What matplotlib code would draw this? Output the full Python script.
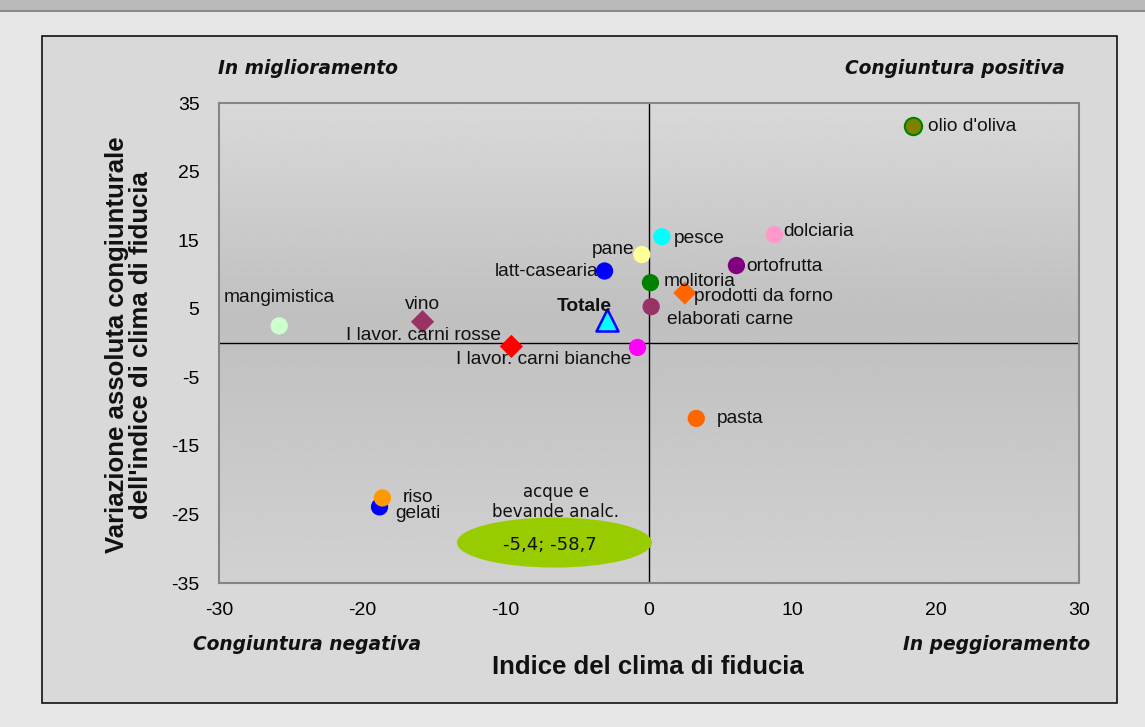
import numpy as np
import matplotlib.pyplot as plt
from matplotlib.patches import Rectangle, Ellipse

W, H = 1145, 727

# data: (indice clima fiducia, variazione congiunturale)
names = ["olio d'oliva", "dolciaria", "pesce", "pane", "latt-casearia", "ortofrutta",
         "molitoria", "prodotti da forno", "elaborati carne", "vino", "mangimistica",
         "I lavor. carni rosse", "I lavor. carni bianche", "pasta", "gelati", "riso"]
x_vals = [18.4, 8.75, 0.9, -0.5, -3.1, 6.1, 0.1, 2.5, 0.15, -15.8, -25.8, -9.6, -0.8, 3.3, -18.8, -18.6]
y_vals = [31.6, 15.8, 15.5, 12.9, 10.5, 11.3, 8.8, 7.3, 5.3, 3.1, 2.5, -0.5, -0.65, -11.0, -23.9, -22.6]
colors = ["#808000", "#ff99cc", "#00ffff", "#ffff99", "#0000ff", "#800080", "#008000", "#ff6600",
          "#993366", "#993366", "#ccffcc", "#ff0000", "#ff00ff", "#ff6600", "#0000ff", "#ff9900"]
markers = ["o", "o", "o", "o", "o", "o", "o", "D", "o", "D", "o", "D", "o", "o", "o", "o"]

totale_x, totale_y = -2.9, 3.4
acque_label = "-5,4; -58,7"

x_ticks = [-30, -20, -10, 0, 10, 20, 30]
y_ticks = [35, 25, 15, 5, -5, -15, -25, -35]

plt.rcParams['font.family'] = ['Liberation Sans', 'DejaVu Sans']

fig = plt.figure(figsize=(W / 100, H / 100), dpi=100)
fig.patch.set_facecolor("#e6e6e6")

def fx(px):
    return px / W

def fy(py):
    return 1 - py / H

# top banner
fig.patches.append(Rectangle((0, fy(10)), 1, 1 - fy(10), transform=fig.transFigure,
                             facecolor="#b9b9b9", edgecolor="none", zorder=0))
fig.patches.append(Rectangle((0, fy(12)), 1, fy(10) - fy(12), transform=fig.transFigure,
                             facecolor="#8a8a8a", edgecolor="none", zorder=0))
# chart area box
fig.patches.append(Rectangle((fx(42), fy(703)), fx(1117 - 42), fy(36) - fy(703),
                             transform=fig.transFigure, facecolor="#d9d9d9",
                             edgecolor="#111111", linewidth=1.2, zorder=0))

ax = fig.add_axes([fx(219), fy(583), fx(1079 - 219), fy(103) - fy(583)])
ax.set_zorder(2)
ax.set_xlim(-30, 30)
ax.set_ylim(-35, 35)

# plot area gradient
grad = np.interp(np.linspace(0, 1, 256), [0, 0.55, 1], [0.82, 0.75, 0.85]).reshape(-1, 1)
ax.imshow(grad, cmap="gray", vmin=0, vmax=1, extent=[0, 1, 0, 1], transform=ax.transAxes,
          aspect="auto", zorder=0, origin="lower")

for sp in ax.spines.values():
    sp.set_color("#858585")
    sp.set_linewidth(1.5)

ax.axhline(0, color="black", lw=1, zorder=1)
ax.axvline(0, color="black", lw=1, zorder=1)

for xv, yv, c, m in zip(x_vals, y_vals, colors, markers):
    if m == "D":
        ax.scatter(xv, yv, s=140, marker="D", color=c, edgecolors="none", zorder=3)
    else:
        ec = "#008000" if c == "#808000" else "none"
        ax.scatter(xv, yv, s=155, marker="o", color=c, edgecolors=ec, linewidths=1.5, zorder=3)

ax.scatter(totale_x, totale_y, s=250, marker="^", color="#00ffff", edgecolors="#0000ff",
           linewidths=1.8, zorder=4)

# labels
lab = dict(fontsize=13.8, color="#111111", zorder=5)
ax.text(19.5, 31.6, names[0], ha="left", va="center", **lab)
ax.text(9.4, 16.3, names[1], ha="left", va="center", **lab)
ax.text(1.7, 15.3, names[2], ha="left", va="center", **lab)
ax.text(-1.0, 13.6, names[3], ha="right", va="center", **lab)
ax.text(-3.5, 10.5, names[4], ha="right", va="center", **lab)
ax.text(6.8, 11.1, names[5], ha="left", va="center", **lab)
ax.text(1.05, 8.9, names[6], ha="left", va="center", **lab)
ax.text(3.15, 6.8, names[7], ha="left", va="center", **lab)
ax.text(1.26, 3.4, names[8], ha="left", va="center", **lab)
ax.text(-15.8, 5.6, names[9], ha="center", va="center", **lab)
ax.text(-25.8, 6.6, names[10], ha="center", va="center", **lab)
ax.text(-10.3, 1.1, names[11], ha="right", va="center", **lab)
ax.text(-1.26, -2.4, names[12], ha="right", va="center", **lab)
ax.text(4.76, -11.0, names[13], ha="left", va="center", **lab)
ax.text(-16.1, -22.6, names[15], ha="center", va="center", **lab)
ax.text(-16.1, -24.9, names[14], ha="center", va="center", **lab)
ax.text(-4.5, 5.3, "Totale", ha="center", va="center", fontweight="bold", **lab)

# acque e bevande analc. - off scale, shown as ellipse
ax.text(-6.5, -21.8, "acque e", ha="center", va="center", fontsize=12,
        family="DejaVu Sans", color="#111111", zorder=5)
ax.text(-6.5, -24.6, "bevande analc.", ha="center", va="center", fontsize=12,
        family="DejaVu Sans", color="#111111", zorder=5)
ax.add_patch(Ellipse((-6.6, -29.1), 13.6, 7.3, facecolor="#99cc00", edgecolor="none", zorder=2))
ax.text(-6.9, -29.4, acque_label, ha="center", va="center", fontsize=13,
        family="DejaVu Sans", color="#111111", zorder=5)

ax.set_xticks(x_ticks)
ax.set_yticks(y_ticks)
ax.set_xticklabels([str(v) for v in x_ticks])
ax.set_yticklabels([str(v) for v in y_ticks])
ax.tick_params(length=0, labelsize=14)
ax.tick_params(axis="x", pad=14)
ax.tick_params(axis="y", pad=14)

fig.text(fx(648), fy(667), "Indice del clima di fiducia", ha="center", va="center",
         fontsize=18.5, fontweight="bold", color="#111111")
fig.text(fx(129), fy(345), "Variazione assoluta congiunturale\ndell'indice di clima di fiducia",
         ha="center", va="center", rotation=90, multialignment="center", linespacing=1.05,
         fontsize=18.5, fontweight="bold", color="#111111")

corner = dict(fontsize=13.4, fontweight="bold", style="italic", family="DejaVu Sans", color="#111111")
fig.text(fx(218), fy(69), "In miglioramento", ha="left", va="center", **corner)
fig.text(fx(1065), fy(68), "Congiuntura positiva", ha="right", va="center", **corner)
fig.text(fx(193), fy(645), "Congiuntura negativa", ha="left", va="center", **corner)
fig.text(fx(1090), fy(645), "In peggioramento", ha="right", va="center", **corner)

plt.savefig("out.png", dpi=100, facecolor=fig.get_facecolor())
